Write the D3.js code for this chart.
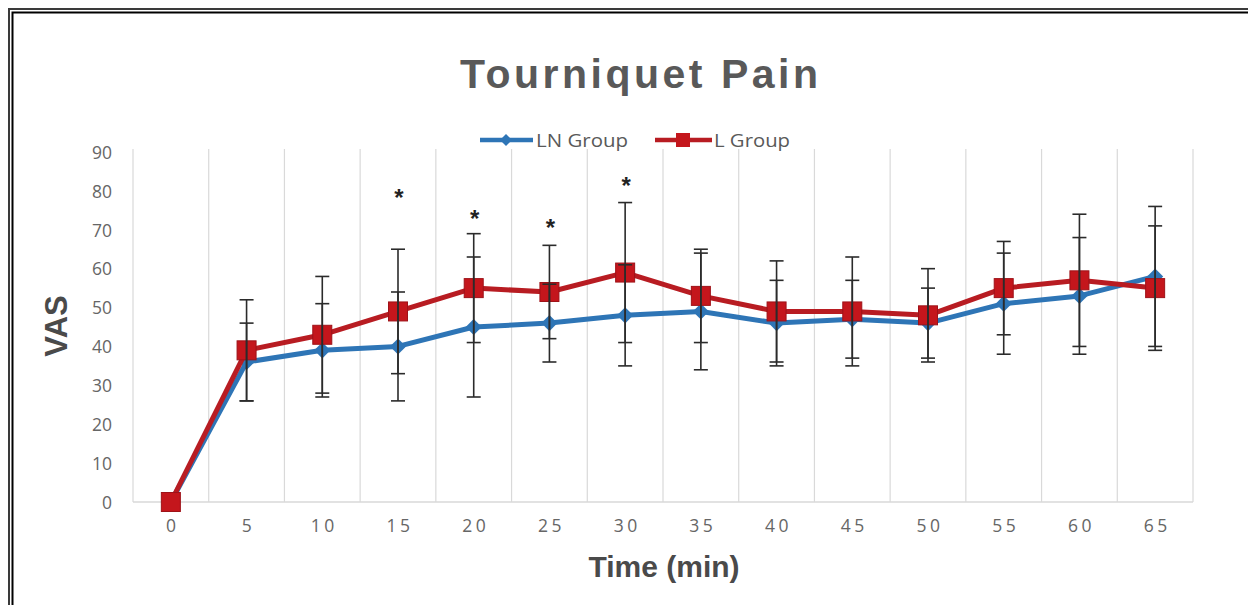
<!DOCTYPE html>
<html><head><meta charset="utf-8">
<script src="https://cdn.jsdelivr.net/npm/d3@7"></script>
<style>html,body{margin:0;padding:0;background:#fff;overflow:hidden}</style>
</head><body>
<svg id="c" width="1248" height="605"></svg>
<script>
const times = [0,5,10,15,20,25,30,35,40,45,50,55,60,65];
const lnMean = [0,36,39,40,45,46,48,49,46,47,46,51,53,58];
const lnSD   = [0,10,12,14,18,10,13,15,11,10,9,13,15,18];
const lMean  = [0,39,43,49,55,54,59,53,49,49,48,55,57,55];
const lSD    = [0,13,15,16,14,12,18,12,13,14,12,12,17,16];
const sigTimes = [15,20,25,30];
const sigY = [79.5,74,71.7,82.5];
const yTicks = [0,10,20,30,40,50,60,70,80,90];

const svg = d3.select("#c");
const W = 1248, H = 605;
svg.append("rect").attr("width",W).attr("height",H).attr("fill","#fff");

// frame (double line top & left)
svg.append("path").attr("d","M9,605V9H1248").attr("fill","none").attr("stroke","#3a3a3a").attr("stroke-width",2);
svg.append("path").attr("d","M12.5,605V12.5H1248").attr("fill","none").attr("stroke","#000").attr("stroke-width",2);

const plot = {l:133, r:1193, t:152, b:502};
const x = d3.scaleBand().domain(times).range([plot.l, plot.r]).paddingInner(0).paddingOuter(0);
const y = d3.scaleLinear().domain([0,90]).range([plot.b, plot.t]);
const cx = t => x(t) + x.bandwidth()/2;

// vertical gridlines at category boundaries
const bounds = times.map(t => x(t)).concat([plot.r]);
svg.append("g").selectAll("line").data(bounds).join("line")
  .attr("x1",d=>d).attr("x2",d=>d).attr("y1",y(90)-3).attr("y2",y(0))
  .attr("stroke","#d9d9d9").attr("stroke-width",1.2);
// x axis baseline
svg.append("line").attr("x1",plot.l).attr("x2",plot.r).attr("y1",y(0)).attr("y2",y(0))
  .attr("stroke","#d9d9d9").attr("stroke-width",1.5);

const tickFont = "Open Sans, Liberation Sans, Arial, sans-serif";
// y axis labels
const yAxis = d3.axisLeft(y).tickValues(yTicks).tickSize(0).tickPadding(0);
const gy = svg.append("g").attr("transform",`translate(112,0)`).call(yAxis);
gy.select(".domain").remove();
gy.selectAll("text").attr("font-family",tickFont).attr("font-size",17.5).attr("fill","#666").attr("dy","0.36em");

// x axis labels
const xAxis = d3.axisBottom(x).tickSize(0).tickPadding(0);
const gx = svg.append("g").attr("transform",`translate(0,520)`).call(xAxis);
gx.select(".domain").remove();
gx.selectAll("text").attr("font-family",tickFont).attr("font-size",17.5)
  .attr("fill","#666").attr("letter-spacing","3.5px").attr("dy","0.71em").attr("dx","2px");

// titles
svg.append("text").attr("x",639).attr("y",88).attr("text-anchor","middle")
  .attr("font-family","Liberation Sans, Arial, sans-serif").attr("font-weight","bold").attr("font-size",41)
  .attr("fill","#595959").attr("textLength",358).attr("lengthAdjust","spacing").text("Tourniquet Pain");
svg.append("text").attr("x",664).attr("y",577).attr("text-anchor","middle")
  .attr("font-family","Liberation Sans, Arial, sans-serif").attr("font-weight","bold").attr("font-size",30)
  .attr("fill","#4a4a4a").text("Time (min)");
svg.append("text").attr("transform","translate(67,326) rotate(-90)").attr("text-anchor","middle")
  .attr("font-family","Liberation Sans, Arial, sans-serif").attr("font-weight","bold").attr("font-size",31)
  .attr("fill","#4a4a4a").text("VAS");

const blue = "#2e75b6", red = "#c4161c", redLine = "#b81c22";
const line = d3.line().x((d,i)=>cx(times[i])).y(d=>y(d));
const diamond = d3.symbol(d3.symbolSquare,130)();

// blue series
svg.append("path").attr("d",line(lnMean)).attr("fill","none").attr("stroke",blue).attr("stroke-width",5).attr("stroke-linejoin","round");
svg.append("g").selectAll("path").data(lnMean).join("path")
  .attr("d",diamond)
  .attr("transform",(d,i)=>`translate(${cx(times[i])},${y(d)}) rotate(45)`)
  .attr("fill",blue);
// red series
svg.append("path").attr("d",line(lMean)).attr("fill","none").attr("stroke",redLine).attr("stroke-width",5).attr("stroke-linejoin","round");
svg.append("g").selectAll("rect").data(lMean).join("rect")
  .attr("x",(d,i)=>cx(times[i])-9.5).attr("y",d=>y(d)-9.5).attr("width",19).attr("height",19)
  .attr("fill",red).attr("stroke","#9e1218").attr("stroke-width",1);

// error bars
function errBars(means, sds){
  const g = svg.append("g").attr("stroke","#2b2b2b").attr("stroke-width",1.6);
  means.forEach((m,i)=>{
    const s = sds[i]; if(!s) return;
    const X = cx(times[i]);
    g.append("line").attr("x1",X).attr("x2",X).attr("y1",y(m-s)).attr("y2",y(m+s));
    [m-s, m+s].forEach(v=>g.append("line").attr("x1",X-7).attr("x2",X+7).attr("y1",y(v)).attr("y2",y(v)));
  });
}
errBars(lnMean, lnSD);
errBars(lMean, lSD);

// significance asterisks
svg.append("g").selectAll("text").data(sigTimes).join("text")
  .attr("x",d=>cx(d)+1).attr("y",(d,i)=>y(sigY[i])+13).attr("text-anchor","middle")
  .attr("font-family","Liberation Sans, Arial, sans-serif").attr("font-weight","bold").attr("font-size",24)
  .attr("fill","#222").text("*");

// legend
const lg = svg.append("g");
lg.append("line").attr("x1",480).attr("x2",533).attr("y1",140).attr("y2",140).attr("stroke",blue).attr("stroke-width",4.5);
lg.append("path").attr("d",d3.symbol(d3.symbolSquare,72)()).attr("transform","translate(506,140) rotate(45)").attr("fill",blue);
lg.append("text").attr("x",536).attr("y",147).attr("font-family",tickFont).attr("font-size",19)
  .attr("fill","#595959").attr("textLength",92).attr("lengthAdjust","spacingAndGlyphs").text("LN Group");
lg.append("line").attr("x1",655).attr("x2",712).attr("y1",140).attr("y2",140).attr("stroke",redLine).attr("stroke-width",4.5);
lg.append("rect").attr("x",676).attr("y",133).attr("width",14).attr("height",14).attr("fill",red);
lg.append("text").attr("x",714).attr("y",147).attr("font-family",tickFont).attr("font-size",19)
  .attr("fill","#595959").attr("textLength",76).attr("lengthAdjust","spacingAndGlyphs").text("L Group");
</script>
</body></html>
